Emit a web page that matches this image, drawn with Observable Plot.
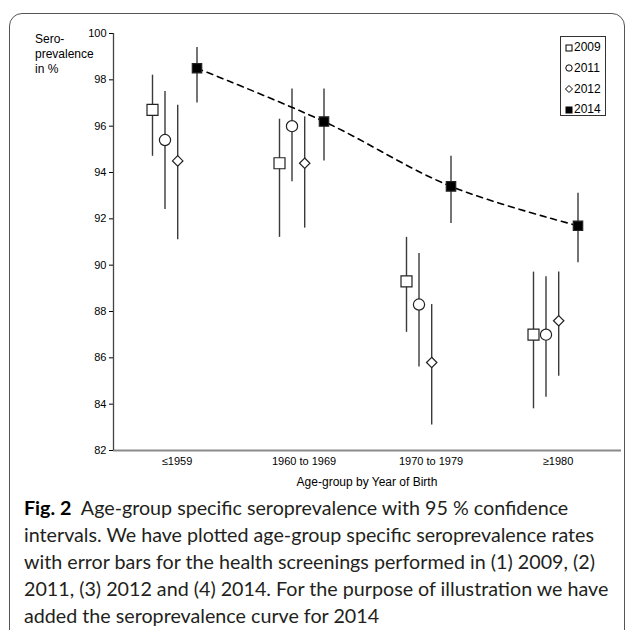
<!DOCTYPE html>
<html>
<head>
<meta charset="utf-8">
<script src="https://cdn.jsdelivr.net/npm/d3@7"></script>
<script src="https://cdn.jsdelivr.net/npm/@observablehq/plot@0.6"></script>
<style>
  html, body { margin: 0; padding: 0; background: #fff; }
  body { width: 629px; height: 630px; position: relative; overflow: hidden; }
  #frame { position: absolute; left: 9px; top: 13px; width: 616px; height: 700px;
           border: 1.5px solid #555; border-radius: 13px; box-sizing: border-box; }
  #chart { position: absolute; left: 0; top: 0; }
  #ylab { position: absolute; left: 35px; top: 32px; font: 12px "Liberation Sans", Arial, sans-serif;
          line-height: 15px; color: #000; }
  #xlab { position: absolute; left: 113px; width: 508px; top: 475px; text-align: center;
          font: 12px "Liberation Sans", Arial, sans-serif; color: #000; }
  #legend { position: absolute; left: 560px; top: 36px; width: 46px; height: 80px;
            border: 1px solid #333; box-sizing: border-box; background: #fff;
            font: 12px "Liberation Sans", Arial, sans-serif; color: #000; }
  #legend div { position: absolute; left: 4px; white-space: nowrap; line-height: 14px; }
  #legend svg { vertical-align: -0.5px; margin-right: 1px; }
  #caption { position: absolute; left: 24px; top: 494px; font-family: Lato, "Open Sans", sans-serif;
             font-size: 19.7px; line-height: 27px; color: #231f20; white-space: nowrap; }
  #caption b { color: #000; font-weight: 700; }
</style>
</head>
<body>
<div id="frame"></div>
<div id="chart"></div>
<div id="ylab">Sero-<br>prevalence<br>in %</div>
<div id="xlab"></div>
<div id="legend"></div>
<div id="caption"></div>
<script>
// ---- data ----
const groups = ["≤1959", "1960 to 1969", "1970 to 1979", "≥1980"];
const years = ["2009", "2011", "2012", "2014"];
const yTicks = [82, 84, 86, 88, 90, 92, 94, 96, 98, 100];

const est2009 = [96.7, 94.4, 89.3, 87.0];
const lo2009  = [94.7, 91.2, 87.1, 83.8];
const hi2009  = [98.2, 96.3, 91.2, 89.7];

const est2011 = [95.4, 96.0, 88.3, 87.0];
const lo2011  = [92.4, 93.6, 85.6, 84.3];
const hi2011  = [97.5, 97.6, 90.5, 89.5];

const est2012 = [94.5, 94.4, 85.8, 87.6];
const lo2012  = [91.1, 91.6, 83.1, 85.2];
const hi2012  = [96.9, 96.4, 88.3, 89.7];

const est2014 = [98.5, 96.2, 93.4, 91.7];
const lo2014  = [97.0, 94.5, 91.8, 90.1];
const hi2014  = [99.4, 97.6, 94.7, 93.1];

const xLabel = "Age-group by Year of Birth";
const captionLines = [
  "Age-group specific seroprevalence with 95 % confidence",
  "intervals. We have plotted age-group specific seroprevalence rates",
  "with error bars for the health screenings performed in (1) 2009, (2)",
  "2011, (3) 2012 and (4) 2014. For the purpose of illustration we have",
  "added the seroprevalence curve for 2014"
];

// ---- build ----
const seriesData = {
  "2009": [est2009, lo2009, hi2009],
  "2011": [est2011, lo2011, hi2011],
  "2012": [est2012, lo2012, hi2012],
  "2014": [est2014, lo2014, hi2014]
};
const style = {
  "2009": {symbol: "square",   r: 6.2, fill: "white", dx: -24.5},
  "2011": {symbol: "circle",   r: 5.6, fill: "white", dx: -12},
  "2012": {symbol: "diamond2", r: 4.7, fill: "white", dx: 0.7},
  "2014": {symbol: "square",   r: 5.3, fill: "black", dx: 20}
};
const rows = {};
for (const yr of years) {
  const [e, l, h] = seriesData[yr];
  rows[yr] = groups.map((g, i) => ({i, group: g, year: yr, est: e[i], lo: l[i], hi: h[i]}));
}

const marks = [];
marks.push(Plot.ruleY([82], {stroke: "#8a8a8a", strokeWidth: 2}));
marks.push(Plot.ruleX([-0.5], {stroke: "#444", strokeWidth: 1.3}));
for (const yr of years) {
  marks.push(Plot.ruleX(rows[yr], {x: "i", y1: "lo", y2: "hi", dx: style[yr].dx, stroke: "#3a3a3a", strokeWidth: 1.4}));
}
marks.push(Plot.line(rows["2014"], {x: "i", y: "est", dx: style["2014"].dx, stroke: "#000", strokeWidth: 1.6,
  strokeDasharray: "6,5", curve: "catmull-rom"}));
for (const yr of years) {
  const s = style[yr];
  marks.push(Plot.dot(rows[yr], {x: "i", y: "est", dx: s.dx, symbol: () => s.symbol, r: s.r,
    fill: s.fill, stroke: "#222", strokeWidth: 1.2}));
}

const chart = Plot.plot({
  width: 629,
  height: 470,
  marginTop: 33,
  marginBottom: 20,
  marginLeft: 113,
  marginRight: 8,
  style: {fontFamily: "'Liberation Sans', Arial, sans-serif", fontSize: "11px", color: "#000", background: "transparent", overflow: "visible"},
  symbol: {type: "identity"},
  x: {type: "linear", domain: [-0.5, 3.5], ticks: [0, 1, 2, 3], tickFormat: i => groups[i],
      tickSize: 0, tickPadding: 7, label: null},
  y: {domain: [82, 100], ticks: yTicks, tickFormat: d => d, tickSize: 4, tickPadding: 3, label: null},
  marks
});
document.getElementById("chart").appendChild(chart);
document.getElementById("xlab").textContent = xLabel;

// legend
const legend = document.getElementById("legend");
const legendSvg = {
  "2009": `<rect x="1" y="1" width="6" height="6" fill="white" stroke="#000" stroke-width="1"/>`,
  "2011": `<circle cx="4" cy="4" r="3.2" fill="white" stroke="#000" stroke-width="1"/>`,
  "2012": `<path d="M4,0.5L7.5,4L4,7.5L0.5,4Z" fill="white" stroke="#000" stroke-width="1"/>`,
  "2014": `<rect x="0.5" y="0.5" width="7" height="7" fill="#000"/>`
};
years.forEach((yr, k) => {
  const d = document.createElement("div");
  d.style.top = (3 + k * 20.8) + "px";
  d.innerHTML = `<svg width="8" height="8">${legendSvg[yr]}</svg>${yr}`;
  legend.appendChild(d);
});

// caption
const cap = document.getElementById("caption");
cap.innerHTML = captionLines.map((t, k) => k === 0 ? `<b>Fig. 2</b>&nbsp; ${t}` : t).join("<br>");
</script>
</body>
</html>
